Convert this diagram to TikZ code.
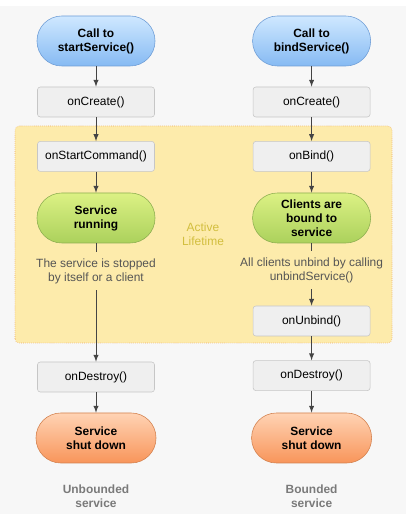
\documentclass[tikz,border=0pt]{standalone}
\usepackage{fontspec}
\setmainfont{Liberation Sans}
\usetikzlibrary{arrows}
\definecolor{bggray}{HTML}{F7F7F7}
\definecolor{linegray}{HTML}{444444}
\definecolor{notegray}{HTML}{555555}
\definecolor{capgray}{HTML}{7A7A7A}
\definecolor{stepfill}{HTML}{EFEFEF}
\definecolor{stepline}{HTML}{C6C6C6}
\definecolor{calltop}{HTML}{CFE8FF}
\definecolor{callbot}{HTML}{86BAF3}
\definecolor{callline}{HTML}{6E9DD6}
\definecolor{runtop}{HTML}{DCF184}
\definecolor{runbot}{HTML}{ABD15C}
\definecolor{runline}{HTML}{8DAE50}
\definecolor{endtop}{HTML}{FFD3B4}
\definecolor{endbot}{HTML}{F8955A}
\definecolor{endline}{HTML}{D3814E}
\definecolor{lifefill}{HTML}{FDEBAB}
\definecolor{lifeline}{HTML}{EEAA60}
\definecolor{lifetext}{HTML}{D2BE3E}
\tikzset{
         basefont/.style={font=\fontsize{8.5}{10}\selectfont},
         stepbox/.style={basefont, draw=stepline, fill=stepfill, rounded corners=2pt,
                         minimum width=2.925cm, minimum height=0.75cm},
         pill/.style={basefont, font=\bfseries\fontsize{8.5}{10}\selectfont, align=center,
                      rounded corners=0.62cm, minimum width=2.95cm, minimum height=1.25cm},
         callbox/.style={pill, draw=callline, top color=calltop, bottom color=callbot},
         runbox/.style={pill, draw=runline, top color=runtop, bottom color=runbot},
         endbox/.style={pill, draw=endline, top color=endtop, bottom color=endbot, minimum width=3cm},
         note/.style={basefont, text=notegray, align=center, inner sep=0.16cm},
         caption/.style={basefont, font=\bfseries\fontsize{8.5}{10}\selectfont, text=capgray, align=center},
         lifebox/.style={draw=lifeline, fill=lifefill, densely dotted, rounded corners=3pt},
         lifelabel/.style={basefont, text=lifetext, align=center},
         flow/.style={draw=linegray, line width=0.7pt}
        }
\begin{document}
\begin{tikzpicture}[>=latex]
    \useasboundingbox (0,0) rectangle (10.15,12.85);
    \fill[white] (0,0) rectangle (10.15,12.85); % page
    \fill[bggray] (0,0) rectangle (10.15,12.7); % background
    \draw[lifebox] (0.375,4.275) rectangle (9.8,9.7); % active lifetime region
    \node[lifelabel] (active) at (5.075,7.0) {Active\\Lifetime}; % region label
    % unbounded service
    \node[callbox] (startL) at (2.4,11.825) {Call to\\startService()};
    \node[stepbox] (createL) at (2.4,10.3) {onCreate()};
    \node[stepbox] (cmdL) at (2.4,8.94) {onStartCommand()};
    \node[runbox] (runL) at (2.4,7.4) {Service\\running};
    \node[note] (stopL) at (2.4,6.07) {The service is stopped\\by itself or a client};
    \node[stepbox] (destroyL) at (2.4,3.425) {onDestroy()};
    \node[endbox] (downL) at (2.4,1.9) {Service\\shut down};
    \node[caption] (nameL) at (2.4,0.45) {Unbounded\\service};
    % bounded service
    \node[callbox] (startR) at (7.79,11.825) {Call to\\bindService()};
    \node[stepbox] (createR) at (7.79,10.3) {onCreate()};
    \node[stepbox] (bindR) at (7.79,8.94) {onBind()};
    \node[runbox] (boundR) at (7.79,7.4) {Clients are\\bound to\\service};
    \node[note] (unbindR) at (7.79,6.1) {All clients unbind by calling\\unbindService()};
    \node[stepbox] (onunbindR) at (7.79,4.825) {onUnbind()};
    \node[stepbox] (destroyR) at (7.79,3.46) {onDestroy()};
    \node[endbox] (downR) at (7.79,1.9) {Service\\shut down};
    \node[caption] (nameR) at (7.79,0.45) {Bounded\\service};
    % connectors
    \draw[flow,->] (startL) -- (createL);
    \draw[flow,->] (createL) -- (cmdL);
    \draw[flow,->] (cmdL) -- (runL);
    \draw[flow] (runL) -- (stopL);
    \draw[flow,->] (stopL) -- (destroyL);
    \draw[flow,->] (destroyL) -- (downL);
    \draw[flow,->] (startR) -- (createR);
    \draw[flow,->] (createR) -- (bindR);
    \draw[flow,->] (bindR) -- (boundR);
    \draw[flow] (boundR) -- (unbindR);
    \draw[flow,->] (unbindR) -- (onunbindR);
    \draw[flow,->] (onunbindR) -- (destroyR);
    \draw[flow,->] (destroyR) -- (downR);
\end{tikzpicture}
\end{document}
